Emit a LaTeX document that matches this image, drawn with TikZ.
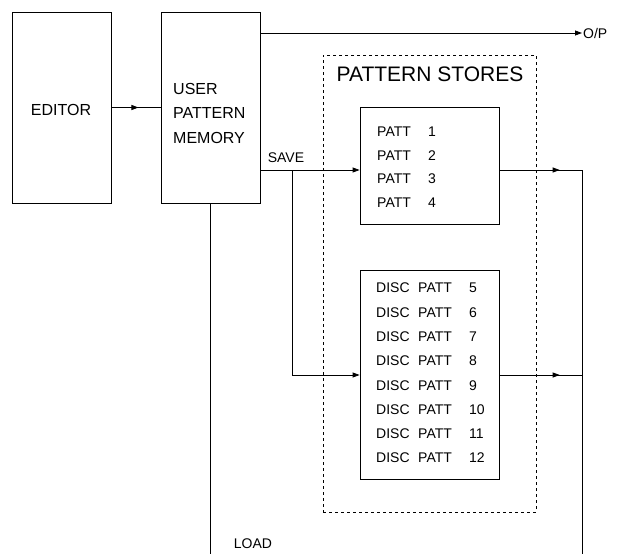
\documentclass[tikz,border=0pt]{standalone}
\usepackage{fontspec}
\setmainfont{Liberation Sans}
\usetikzlibrary{arrows.meta,positioning,decorations.markings}

\begin{document}
\begin{tikzpicture}[x=1pt,y=-1pt,
    every node/.style={font=\fontsize{14}{17}\selectfont},
    box/.style={draw,line width=0.8pt,inner sep=0pt},
    wire/.style={line width=0.8pt},
    arr/.style={-{Triangle[length=7pt,width=5pt]},line width=0.8pt},
    midarr/.style={line width=0.8pt,postaction={decorate},
      decoration={markings,mark=at position #1 with {\arrow{Triangle[length=7pt,width=5pt]}}}}
  ]
    \useasboundingbox (0,0) rectangle (619,554);
    % Editor and user memory
    \node[box,minimum width=99pt,minimum height=191pt] (editor) at (61.5,107.5) {};
    \node[font=\fontsize{16}{19}\selectfont] (edtxt) at (61,110) {EDITOR};
    \node[box,minimum width=99pt,minimum height=191pt] (upm) at (210.5,107.5) {};
    \node[anchor=west,align=left,inner sep=0pt,font=\fontsize{16}{24.5}\selectfont]
      (upmtxt) at (173,113) {USER\\PATTERN\\MEMORY};
    \draw[midarr=0.55] (editor) -- (upm);
    % Pattern stores
    \node[box,dash pattern=on 3pt off 3pt,minimum width=213pt,minimum height=457pt]
      (stores) at (429.5,283.5) {};
    \node[font=\fontsize{21}{25}\selectfont] (storestitle) at (430,74.5) {PATTERN STORES};
    \node[box,minimum width=139pt,minimum height=117pt] (pattbox) at (429.5,165.5) {};
    \node[box,minimum width=139pt,minimum height=209pt] (discbox) at (429.5,375) {};
    \foreach \n/\yy in {1/132,2/155.5,3/179,4/202.5}
      \node[anchor=west,inner sep=0pt] (patt\n) at (377,\yy) {\makebox[51pt][l]{PATT}\n};
    \foreach \n in {5,...,12}
      \node[anchor=west,inner sep=0pt] (disc\n) at (376,{288+24.3*(\n-5)})
        {\makebox[42pt][l]{DISC}\makebox[51pt][l]{PATT}\n};
    % Output
    \node[anchor=west,inner sep=1pt] (op) at (582,33) {O/P};
    \draw[arr] (upm.east |- op) -- (op.west);
    % Save paths
    \coordinate (savein) at (pattbox.west |- 0,170);
    \coordinate (saveout) at (upm.east |- savein);
    \coordinate (savebr) at (292,170);
    \draw[arr] (saveout) -- (savein);
    \draw[arr] (savebr) |- (discbox.west);
    \node (savelbl) at (286,158) {SAVE};
    % Load paths
    \coordinate (pattout) at (pattbox.east |- savein);
    \coordinate (bustop) at (582,170);
    \coordinate (busbot) at (582,554);
    \draw[midarr=0.73] (pattout) -- (bustop);
    \draw[midarr=0.73] (discbox.east) -- (bustop |- discbox.east);
    \draw[wire] (bustop) -- (busbot);
    \coordinate (loadbot) at (upm.south |- busbot);
    \draw[wire] (upm.south) -- (loadbot);
    \node (loadlbl) at (253,544) {LOAD};
  \end{tikzpicture}
\end{document}
